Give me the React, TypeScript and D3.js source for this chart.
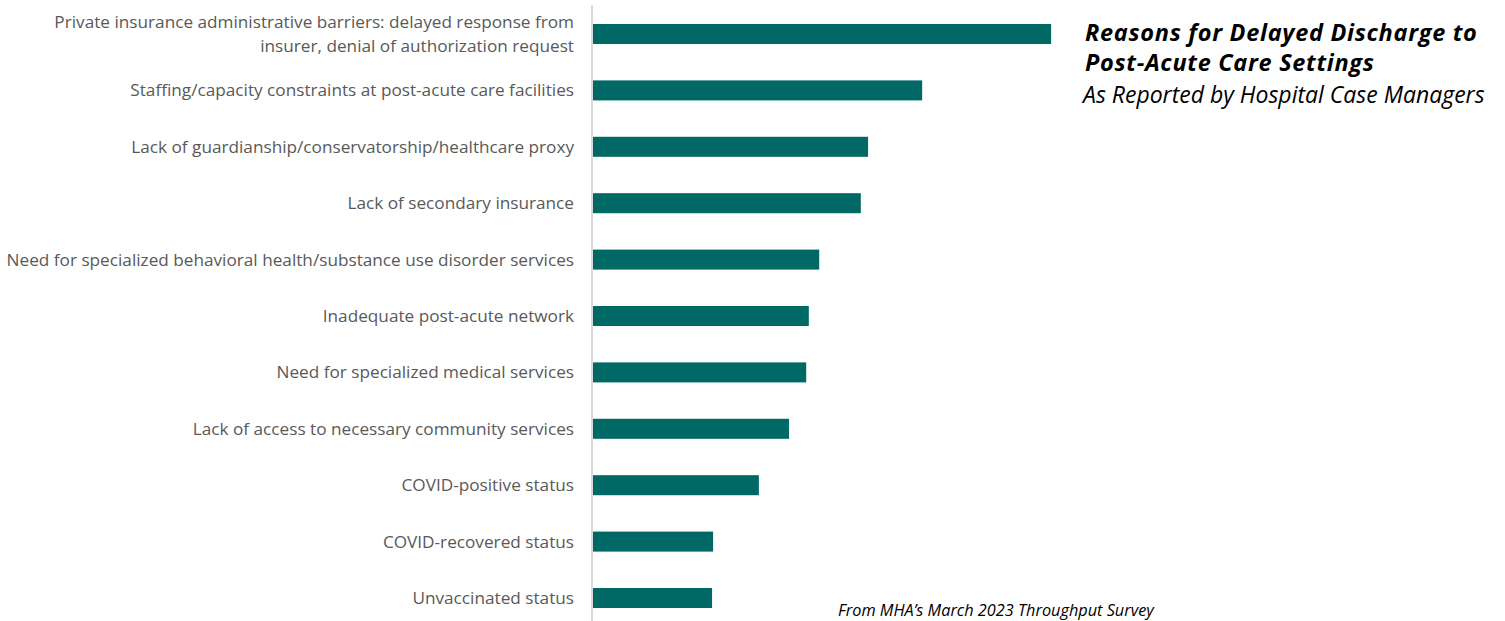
import React from "react";
import * as d3 from "d3";

const categories: string[][] = [
  ["Private insurance administrative barriers: delayed response from", "insurer, denial of authorization request"],
  ["Staffing/capacity constraints at post-acute care facilities"],
  ["Lack of guardianship/conservatorship/healthcare proxy"],
  ["Lack of secondary insurance"],
  ["Need for specialized behavioral health/substance use disorder services"],
  ["Inadequate post-acute network"],
  ["Need for specialized medical services"],
  ["Lack of access to necessary community services"],
  ["COVID-positive status"],
  ["COVID-recovered status"],
  ["Unvaccinated status"],
];

const values: number[] = [88.1, 63.3, 52.9, 51.5, 43.5, 41.5, 41.0, 37.7, 31.9, 23.1, 22.9];

const titleLines = ["Reasons for Delayed Discharge to", "Post-Acute Care Settings"];
const subtitle = "As Reported by Hospital Case Managers";
const source = "From MHA\u2019s March 2023 Throughput Survey";

const W = 1505;
const H = 621;
const FONT = "'Open Sans', Lato, sans-serif";

export default function App() {
  const x = d3.scaleLinear().domain([0, 100]).range([593, 1113]);
  const y = d3
    .scaleBand<number>()
    .domain(d3.range(values.length))
    .range([5.8, 626.2])
    .paddingInner(0.645)
    .paddingOuter(0.3225);
  const bw = y.bandwidth();

  return (
    <svg
      width={W}
      height={H}
      style={{ position: "absolute", left: 0, top: 0, background: "#fff" }}
      fontFamily={FONT}
    >
      {values.map((v, i) => (
        <rect key={i} x={x(0)} y={y(i)!} width={x(v) - x(0)} height={bw} fill="#006966" />
      ))}
      <line x1={592} x2={592} y1={5} y2={H} stroke="#d9d9d9" strokeWidth={2} />
      {categories.map((lines, i) => {
        const cy = y(i)! + bw / 2;
        const lh = 24;
        const start = cy - ((lines.length - 1) * lh) / 2;
        return (
          <text key={i} textAnchor="end" fontSize={17.2} fill="#595959">
            {lines.map((l, j) => (
              <tspan key={j} x={574} y={start + j * lh} dy="0.35em">
                {l}
              </tspan>
            ))}
          </text>
        );
      })}
      <text fontSize={23.5} fontWeight="bold" fontStyle="italic" fill="#000" letterSpacing={0.7}>
        {titleLines.map((l, j) => (
          <tspan key={j} x={1085} y={33 + j * 30} dy="0.35em">
            {l}
          </tspan>
        ))}
      </text>
      <text x={1083} y={95} dy="0.35em" fontSize={23} fontStyle="italic" fill="#000">
        {subtitle}
      </text>
      <text x={838} y={610} dy="0.35em" fontSize={16.3} fontStyle="italic" fill="#000">
        {source}
      </text>
    </svg>
  );
}
